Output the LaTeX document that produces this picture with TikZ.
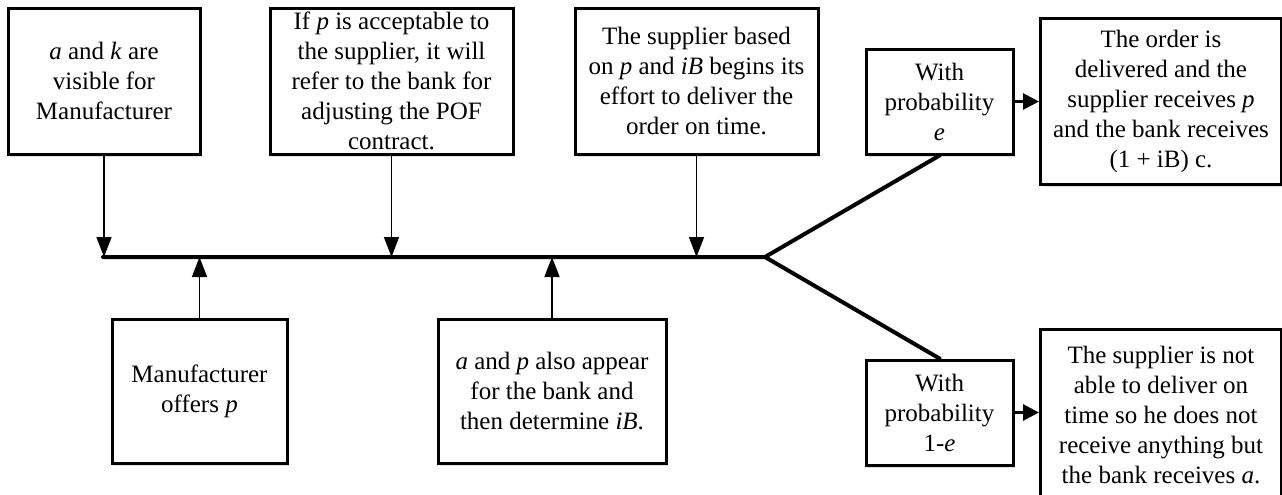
\documentclass[tikz,border=0pt]{standalone}
\usepackage{fontspec}
\setmainfont{Liberation Serif}
\usetikzlibrary{arrows.meta,shadows}
\definecolor{shade}{RGB}{205,218,238}
\begin{document}
\begin{tikzpicture}[x=0.5pt,y=-0.5pt]
    \tikzstyle{event}=[rectangle,draw=black,fill=white,line width=1.5pt,inner sep=0pt,align=center,
      font=\fontsize{12.5pt}{15pt}\selectfont,
      drop shadow={shadow xshift=1pt,shadow yshift=-1.5pt,fill=shade,opacity=0.8}]
    \tikzstyle{arr}=[line width=0.75pt,-{Triangle[length=10pt,width=7.5pt]}]
    \tikzstyle{outcome}=[line width=1.5pt,-{Triangle[length=8pt,width=8pt]}]
    \tikzstyle{timeline}=[line width=2pt,line cap=round]
    \useasboundingbox (0,0) rectangle (1282,494);
    % boxes above the line
    \node[event,minimum width=96pt,minimum height=73pt] (know) at (104,81)
      {\textit{a} and \textit{k} are\\visible for\\Manufacturer};
    \node[event,minimum width=121.5pt,minimum height=73pt] (accept) at (391.5,81)
      {If \textit{p} is acceptable to\\the supplier, it will\\refer to the bank for\\adjusting the POF\\contract.};
    \node[event,minimum width=121.5pt,minimum height=73pt] (effort) at (696.5,81)
      {The supplier based\\on \textit{p} and \textit{iB} begins its\\effort to deliver the\\order on time.};
    % boxes below the line
    \node[event,minimum width=87.5pt,minimum height=72pt] (offer) at (199.5,391)
      {Manufacturer\\offers \textit{p}};
    \node[event,minimum width=114pt,minimum height=72pt] (bank) at (552,391)
      {\textit{a} and \textit{p} also appear\\for the bank and\\then determine \textit{iB}.};
    % the two branches
    \node[event,minimum width=73.5pt,minimum height=52.5pt] (prob) at (939.5,101.5)
      {With\\probability\\\textit{e}};
    \node[event,minimum width=120.5pt,minimum height=83pt] (deliv) at (1161,101)
      {The order is\\delivered and the\\supplier receives \textit{p}\\and the bank receives\\(1 + iB) c.};
    \node[event,minimum width=73.5pt,minimum height=52.5pt] (probn) at (939.5,412.5)
      {With\\probability\\1-\textit{e}};
    \node[event,minimum width=120.5pt,minimum height=86pt] (fail) at (1161,415)
      {The supplier is not\\able to deliver on\\time so he does not\\receive anything but\\the bank receives \textit{a}.};
    \coordinate (start) at (103,257);
    \coordinate (fork) at (765,257);
    \draw[timeline] (start) -- (fork) -- (prob.south);
    \draw[timeline] (fork) -- (probn.north);
    \draw[arr] (know) -- (know |- start);
    \draw[arr] (accept) -- (accept |- start);
    \draw[arr] (effort) -- (effort |- start);
    \draw[arr] (offer) -- (offer |- start);
    \draw[arr] (bank) -- (bank |- start);
    \draw[outcome] (prob.east) -- (prob.east -| deliv.west);
    \draw[outcome] (probn.east) -- (probn.east -| fail.west);
  \end{tikzpicture}
\end{document}
